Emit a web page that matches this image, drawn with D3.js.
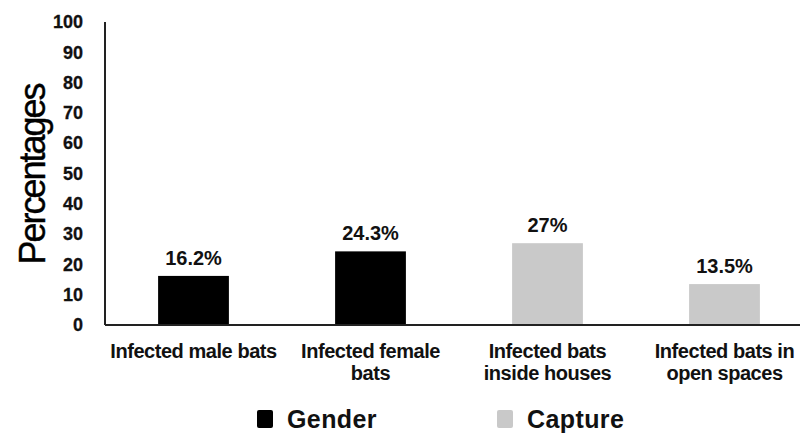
<!DOCTYPE html>
<html>
<head>
<meta charset="utf-8">
<script src="https://cdn.jsdelivr.net/npm/d3@7"></script>
<style>
  body { margin: 0; background: #fff; }
  text { font-family: "Liberation Sans", Arial, sans-serif; }
</style>
</head>
<body>
<svg id="chart" width="800" height="435"></svg>
<script>
// data
const categories = ["Infected male bats", "Infected female bats", "Infected bats inside houses", "Infected bats in open spaces"];
const catLines = [["Infected male bats"], ["Infected female", "bats"], ["Infected bats", "inside houses"], ["Infected bats in", "open spaces"]];
const values = [16.2, 24.3, 27, 13.5];
const valueLabels = ["16.2%", "24.3%", "27%", "13.5%"];
const groups = ["Gender", "Gender", "Capture", "Capture"];
const legendNames = ["Gender", "Capture"];
const yTicks = [0, 10, 20, 30, 40, 50, 60, 70, 80, 90, 100];

let margin = {top: 22, left: 105, bottom: 110};
let svgWidth = 800, svgHeight = 435;
let plotRight = 813;
let baseY = svgHeight - margin.bottom;

let color = d3.scaleOrdinal().domain(legendNames).range(["#000000", "#c9c9c9"]);

let x = d3.scaleBand().domain(categories).range([margin.left, plotRight]).paddingInner(0.6).paddingOuter(0.3);
let y = d3.scaleLinear().domain([0, 100]).range([baseY, margin.top]);

let svg = d3.select("#chart");

// y tick labels (no tick marks)
let yAxis = svg.append("g")
    .attr("transform", "translate(" + margin.left + ",0)")
    .call(d3.axisLeft(y).tickValues(yTicks).tickSize(0).tickPadding(22));
yAxis.select(".domain").remove();
yAxis.selectAll("text")
    .attr("font-size", "18px")
    .attr("font-weight", "bold")
    .attr("fill", "#111")
    .attr("stroke", "#111")
    .attr("stroke-width", 0.3)
    .style("font-family", "'Liberation Sans', Arial, sans-serif");

// bars
svg.selectAll(".bar")
    .data(categories)
    .enter()
    .append("rect")
    .attr("class", "bar")
    .attr("x", d => x(d))
    .attr("y", (d, i) => y(values[i]))
    .attr("width", x.bandwidth())
    .attr("height", (d, i) => baseY - y(values[i]))
    .attr("fill", (d, i) => color(groups[i]));

// value labels
svg.selectAll(".val")
    .data(categories)
    .enter()
    .append("text")
    .attr("x", d => x(d) + x.bandwidth() / 2)
    .attr("y", (d, i) => y(values[i]) - 11)
    .attr("text-anchor", "middle")
    .attr("font-size", "20px")
    .attr("font-weight", "bold")
    .attr("fill", "#111")
    .text((d, i) => valueLabels[i]);

// axis lines
svg.append("line")
    .attr("x1", margin.left).attr("x2", margin.left)
    .attr("y1", y(100)).attr("y2", baseY)
    .attr("stroke", "#222").attr("stroke-width", 2);
svg.append("line")
    .attr("x1", margin.left).attr("x2", plotRight)
    .attr("y1", baseY).attr("y2", baseY)
    .attr("stroke", "#222").attr("stroke-width", 2);

// category labels
let cat = svg.selectAll(".cat")
    .data(categories)
    .enter()
    .append("text")
    .attr("class", "cat")
    .attr("text-anchor", "middle")
    .attr("font-size", "20px")
    .attr("font-weight", "bold")
    .attr("fill", "#111")
    .attr("letter-spacing", "-0.45px");
cat.each(function(d, i) {
    let t = d3.select(this);
    catLines[i].forEach((line, j) => {
        t.append("tspan")
            .attr("x", x(d) + x.bandwidth() / 2)
            .attr("y", baseY + 33 + j * 22)
            .text(line);
    });
});

// y title
svg.append("text")
    .attr("transform", "translate(45," + (y(50) + 1) + ") rotate(-90)")
    .attr("text-anchor", "middle")
    .attr("font-size", "36px")
    .attr("fill", "#000")
    .attr("stroke", "#000")
    .attr("stroke-width", 0.4)
    .attr("letter-spacing", "-2px")
    .text("Percentages");

// legend
let legendX = [257, 497];
let legend = svg.selectAll(".legend")
    .data(legendNames)
    .enter()
    .append("g")
    .attr("transform", (d, i) => "translate(" + legendX[i] + ",410)");
legend.append("rect")
    .attr("width", 16).attr("height", 18).attr("rx", 2)
    .attr("fill", d => color(d));
legend.append("text")
    .attr("x", 30).attr("y", 18)
    .attr("font-size", "25px")
    .attr("font-weight", "bold")
    .attr("fill", "#111")
    .attr("letter-spacing", "0.4px")
    .text(d => d);
</script>
</body>
</html>
